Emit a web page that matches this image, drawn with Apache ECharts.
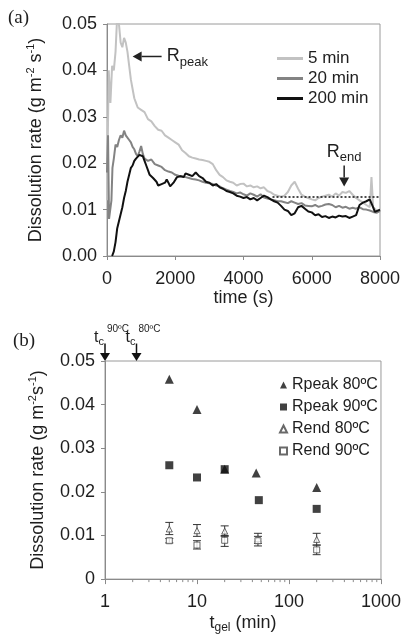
<!DOCTYPE html>
<html><head><meta charset="utf-8">
<script src="https://cdn.jsdelivr.net/npm/echarts@6/dist/echarts.min.js"></script>
<style>html,body{margin:0;padding:0;background:#fff}#c{width:404px;height:635px}</style>
</head><body><div id="c"></div>
<script>
// ---------- Panel (a): dissolution rate vs time ----------
const time5 = [0,50,100,150,200,250,300,350,400,450,500,550,600,650,700,750,800,850,900,1000,1100,1200,1300,1400,1500,1600,1700,1800,1900,2000,2100,2200,2300,2400,2500,2600,2700,2800,2900,3000,3100,3200,3300,3400,3500,3600,3700,3800,3900,4000,4100,4200,4300,4400,4500,4600,4700,4800,4900,5000,5100,5200,5300,5400,5500,5600,5700,5800,5900,6000,6100,6200,6300,6400,6500,6600,6700,6800,6900,7000,7100,7200,7300,7400,7500,7600,7700,7750,7800,7900,8000];
const rate5 = [0.012,0.040,0.033,0.041,0.040,0.044,0.052,0.050,0.046,0.045,0.047,0.046,0.044,0.041,0.038,0.036,0.034,0.033,0.032,0.0315,0.031,0.0295,0.029,0.028,0.0272,0.027,0.026,0.0255,0.025,0.0245,0.024,0.0228,0.0222,0.0215,0.0212,0.021,0.0208,0.0207,0.0205,0.0203,0.0198,0.0185,0.0175,0.017,0.0163,0.016,0.0158,0.0152,0.0155,0.0156,0.015,0.0152,0.0148,0.015,0.0146,0.0148,0.014,0.0137,0.0132,0.013,0.0128,0.013,0.0138,0.0152,0.016,0.0145,0.0132,0.0128,0.0125,0.0122,0.012,0.0125,0.0128,0.013,0.0132,0.0128,0.0135,0.013,0.0138,0.0136,0.014,0.0132,0.0125,0.012,0.0115,0.011,0.0105,0.017,0.0105,0.0098,0.0095];

const time20 = [0,30,60,100,130,160,200,250,300,350,400,450,500,550,600,650,700,750,800,850,900,950,1000,1050,1100,1200,1300,1400,1500,1600,1700,1800,1900,2000,2100,2200,2300,2400,2500,2600,2700,2800,2900,3000,3100,3200,3300,3400,3500,3600,3700,3800,3900,4000,4100,4200,4300,4400,4500,4600,4700,4800,4900,5000,5100,5200,5300,5400,5500,5600,5700,5800,5900,6000,6100,6200,6300,6400,6500,6600,6700,6800,6900,7000,7100,7200,7300,7400,7500,7600,7700,7800,7900,8000];
const rate20 = [0.018,0.026,0.008,0.0078,0.012,0.019,0.021,0.024,0.0235,0.025,0.026,0.0255,0.027,0.026,0.0262,0.025,0.0245,0.0235,0.023,0.022,0.0215,0.0225,0.0237,0.022,0.021,0.0205,0.0208,0.0198,0.0195,0.0192,0.0185,0.0182,0.018,0.0175,0.0173,0.0172,0.017,0.0168,0.0166,0.0165,0.0163,0.016,0.0158,0.0157,0.0155,0.0152,0.015,0.0146,0.0143,0.014,0.0138,0.0135,0.0137,0.0133,0.013,0.0135,0.0132,0.0128,0.0133,0.0126,0.0124,0.0122,0.012,0.0118,0.0118,0.0116,0.0114,0.0118,0.0115,0.0112,0.0114,0.0109,0.0108,0.0107,0.011,0.0106,0.0108,0.0111,0.0112,0.011,0.0105,0.0108,0.0104,0.0106,0.0102,0.0104,0.0102,0.0105,0.0101,0.01,0.0098,0.0095,0.0093,0.0097];

const time200 = [150,200,250,300,350,400,450,500,550,600,650,700,750,800,850,900,950,1000,1050,1100,1150,1200,1250,1300,1350,1400,1450,1500,1550,1600,1650,1700,1750,1800,1850,1900,1950,2000,2050,2100,2150,2200,2250,2300,2400,2500,2600,2700,2800,2900,3000,3100,3200,3300,3400,3500,3600,3700,3800,3900,4000,4100,4200,4300,4400,4500,4600,4700,4800,4900,5000,5100,5200,5300,5400,5500,5600,5700,5800,5900,6000,6100,6200,6300,6400,6500,6600,6700,6800,6900,7000,7100,7200,7300,7400,7500,7600,7700,7750,7800,7850,7900,8000];
const rate200 = [0.0,0.001,0.003,0.006,0.0075,0.009,0.0105,0.0125,0.014,0.016,0.0175,0.019,0.0195,0.0205,0.021,0.0212,0.0218,0.022,0.0215,0.0205,0.0195,0.0185,0.0175,0.0172,0.0168,0.0165,0.016,0.0152,0.015,0.0155,0.0152,0.0158,0.0165,0.0158,0.015,0.0152,0.0158,0.0162,0.017,0.0168,0.0172,0.0175,0.017,0.0178,0.0175,0.0172,0.018,0.0172,0.0168,0.016,0.0158,0.0152,0.0155,0.0148,0.0145,0.014,0.0138,0.0135,0.013,0.0128,0.0125,0.0127,0.0122,0.0125,0.012,0.0125,0.013,0.0127,0.0122,0.0118,0.0115,0.0108,0.01,0.0097,0.0088,0.0092,0.0105,0.0108,0.0102,0.0096,0.0094,0.0088,0.009,0.0084,0.0086,0.0082,0.0085,0.0083,0.0087,0.0085,0.0086,0.0082,0.0085,0.0088,0.011,0.0115,0.0118,0.0122,0.012,0.0105,0.0095,0.0098,0.01];

// dotted R_end guide line
const rendGuideX = [4850, 8000];
const rendGuideY = [0.0127, 0.0127];

// ---------- Panel (b): rates vs gel time ----------
const rpeak80X = [5, 10, 20, 44, 200];
const rpeak80Y = [0.0458, 0.0389, 0.0252, 0.0243, 0.021];
const rpeak90X = [5, 10, 20, 47, 200];
const rpeak90Y = [0.0261, 0.0233, 0.0252, 0.0181, 0.0161];
const rendX = [5, 10, 20, 46, 200];
const rend80Y = [0.0115, 0.0111, 0.0110, 0.0093, 0.0091];
const rend80Lo = [0.0102, 0.0098, 0.0098, 0.0082, 0.0078];
const rend80Hi = [0.0130, 0.0125, 0.0122, 0.0105, 0.0105];
const rend90Y = [0.0088, 0.0078, 0.0089, 0.0088, 0.0067];
const rend90Lo = [0.0083, 0.0069, 0.0075, 0.0076, 0.0056];
const rend90Hi = [0.0093, 0.0088, 0.0100, 0.0098, 0.0078];
const minorTickVals = [2,3,4,5,6,7,8,9,20,30,40,50,60,70,80,90,200,300,400,500,600,700,800,900];
const tcX = [1, 2.2];
const tcLabels = ['90ºC', '80ºC'];

const yTicksA = ['0.00','0.01','0.02','0.03','0.04','0.05'];
const yTicksB = ['0','0.01','0.02','0.03','0.04','0.05'];

const zip = (a, b) => a.map((v, i) => [v, b[i]]);
const FONT = 'Liberation Sans, Arial, sans-serif';
const TXT = '#1e1e1e';
const AXC = '#8a8a8a';

const richBase = {
  sup: { fontSize: 11, verticalAlign: 'top', lineHeight: 22, fontFamily: FONT, color: TXT },
  sub: { fontSize: 12, verticalAlign: 'bottom', lineHeight: 22, fontFamily: FONT, color: TXT }
};

const chart = echarts.init(document.getElementById('c'), null, { renderer: 'canvas' });

const option = {
  animation: false,
  backgroundColor: '#fff',
  textStyle: { fontFamily: FONT },
  grid: [
    { left: 107, top: 24, width: 273, height: 232, show: true, borderColor: '#9a9a9a', borderWidth: 1, backgroundColor: 'transparent' },
    { left: 105, top: 361, width: 277, height: 226, show: true, borderColor: '#9a9a9a', borderWidth: 1, backgroundColor: 'transparent' }
  ],
  xAxis: [
    { gridIndex: 0, type: 'value', min: 0, max: 8000, interval: 2000,
      axisLine: { lineStyle: { color: AXC } }, axisTick: { show: true, length: 4, lineStyle: { color: AXC } },
      splitLine: { show: false },
      axisLabel: { fontSize: 18, color: TXT, margin: 14, fontFamily: FONT, formatter: (v) => String(v) },
      name: 'time (s)', nameLocation: 'middle', nameGap: 33,
      nameTextStyle: { fontSize: 18, color: TXT, fontFamily: FONT } },
    { gridIndex: 1, type: 'log', logBase: 10, min: 1, max: 1000,
      axisLine: { lineStyle: { color: AXC } }, axisTick: { show: true, length: 5, lineStyle: { color: AXC } },
      splitLine: { show: false }, minorTick: { show: false },
      axisLabel: { fontSize: 18, color: TXT, margin: 14, fontFamily: FONT, formatter: (v) => String(Math.round(v)) },
      name: 't{sub|gel} (min)', nameLocation: 'middle', nameGap: 27,
      nameTextStyle: { fontSize: 18, color: TXT, fontFamily: FONT, lineHeight: 22, rich: richBase } }
  ],
  yAxis: [
    { gridIndex: 0, type: 'value', min: 0, max: 0.05, interval: 0.01,
      axisLine: { show: true, lineStyle: { color: AXC } }, axisTick: { show: true, length: 4, lineStyle: { color: AXC } },
      splitLine: { show: false },
      axisLabel: { fontSize: 18, color: TXT, margin: 10, fontFamily: FONT,
        formatter: (v) => yTicksA[Math.round(v / 0.01)] },
      name: 'Dissolution rate (g m{sup|-2} s{sup|-1})', nameLocation: 'middle', nameGap: 60,
      nameTextStyle: { fontSize: 18, color: TXT, fontFamily: FONT, lineHeight: 22, rich: richBase } },
    { gridIndex: 1, type: 'value', min: 0, max: 0.05, interval: 0.01,
      axisLine: { show: true, lineStyle: { color: AXC } }, axisTick: { show: true, length: 4, lineStyle: { color: AXC } },
      splitLine: { show: false },
      axisLabel: { fontSize: 18, color: TXT, margin: 10, fontFamily: FONT,
        formatter: (v) => yTicksB[Math.round(v / 0.01)] },
      name: 'Dissolution rate (g m{sup|-2}s{sup|-1})', nameLocation: 'middle', nameGap: 56,
      nameTextStyle: { fontSize: 18, color: TXT, fontFamily: FONT, lineHeight: 22, rich: richBase } }
  ],
  legend: [
    { data: ['5 min', '20 min', '200 min'], orient: 'vertical', left: 272, top: 45,
      icon: 'rect', itemWidth: 26, itemHeight: 3, itemGap: 3,
      textStyle: { fontSize: 17, color: TXT, fontFamily: FONT, lineHeight: 13 } },
    { data: ['Rpeak 80ºC', 'Rpeak 90ºC', 'Rend 80ºC', 'Rend 90ºC'], orient: 'vertical', left: 274, top: 372,
      itemWidth: 7, itemHeight: 7, itemGap: 6,
      textStyle: { fontSize: 16, color: TXT, fontFamily: FONT, lineHeight: 15 } }
  ],
  series: [
    { name: '5 min', type: 'line', xAxisIndex: 0, yAxisIndex: 0, data: zip(time5, rate5),
      showSymbol: false, symbol: 'none', clip: true,
      lineStyle: { color: '#c2c2c2', width: 2 }, itemStyle: { color: '#c2c2c2' } },
    { name: '20 min', type: 'line', xAxisIndex: 0, yAxisIndex: 0, data: zip(time20, rate20),
      showSymbol: false, symbol: 'none', clip: true,
      lineStyle: { color: '#838383', width: 2 }, itemStyle: { color: '#838383' } },
    { name: '200 min', type: 'line', xAxisIndex: 0, yAxisIndex: 0, data: zip(time200, rate200),
      showSymbol: false, symbol: 'none', clip: true,
      lineStyle: { color: '#111', width: 2 }, itemStyle: { color: '#111' } },
    { name: 'Rend guide', type: 'line', xAxisIndex: 0, yAxisIndex: 0, data: zip(rendGuideX, rendGuideY),
      showSymbol: false, symbol: 'none', silent: true,
      lineStyle: { color: '#111', width: 1.5, type: [2, 2] } },

    { name: 'minor ticks', type: 'custom', xAxisIndex: 1, yAxisIndex: 1, clip: false, silent: true,
      data: minorTickVals.map(v => [v, 0]),
      renderItem: (params, api) => {
        const p = api.coord([api.value(0), api.value(1)]);
        return { type: 'line', shape: { x1: p[0], y1: p[1], x2: p[0], y2: p[1] + 3 }, style: { stroke: AXC, lineWidth: 1 } };
      } },
    { name: 'err', type: 'custom', xAxisIndex: 1, yAxisIndex: 1, silent: true,
      data: rendX.map((x, i) => [x, rend80Lo[i], rend80Hi[i]]).concat(rendX.map((x, i) => [x, rend90Lo[i], rend90Hi[i]])),
      encode: { x: 0, y: [1, 2] },
      renderItem: (params, api) => {
        const x = api.value(0);
        const a = api.coord([x, api.value(1)]), b = api.coord([x, api.value(2)]);
        const w = 4, st = { stroke: '#333', lineWidth: 1 };
        return { type: 'group', children: [
          { type: 'line', shape: { x1: a[0], y1: a[1], x2: b[0], y2: b[1] }, style: st },
          { type: 'line', shape: { x1: a[0] - w, y1: a[1], x2: a[0] + w, y2: a[1] }, style: st },
          { type: 'line', shape: { x1: b[0] - w, y1: b[1], x2: b[0] + w, y2: b[1] }, style: st }
        ] };
      } },
    { name: 'Rpeak 80ºC', type: 'scatter', xAxisIndex: 1, yAxisIndex: 1, data: zip(rpeak80X, rpeak80Y),
      symbol: 'triangle', symbolSize: 9, itemStyle: { color: '#111' } },
    { name: 'Rpeak 90ºC', type: 'scatter', xAxisIndex: 1, yAxisIndex: 1, data: zip(rpeak90X, rpeak90Y),
      symbol: 'rect', symbolSize: 8, itemStyle: { color: '#111' } },
    { name: 'Rend 80ºC', type: 'scatter', xAxisIndex: 1, yAxisIndex: 1, data: zip(rendX, rend80Y),
      symbol: 'triangle', symbolSize: 6, itemStyle: { color: '#fff', borderColor: '#444', borderWidth: 1 } },
    { name: 'Rend 90ºC', type: 'scatter', xAxisIndex: 1, yAxisIndex: 1, data: zip(rendX, rend90Y),
      symbol: 'rect', symbolSize: 6, itemStyle: { color: '#fff', borderColor: '#444', borderWidth: 1 } }
  ]
};
chart.setOption(option);

// ---------- annotations (positions given in data space) ----------
const rpeakArrow = { from: [1600, 0.043], to: [750, 0.043], label: [1750, 0.043] };
const rendArrow = { from: [6950, 0.0195], to: [6950, 0.0150], label: [6950, 0.0225] };
const tcArrowTop = 0.0540;

function px(g, pt) { return chart.convertToPixel({ gridIndex: g }, pt); }
function arrow(a, b, color, hl, hw) {
  const dx = b[0] - a[0], dy = b[1] - a[1];
  const L = Math.hypot(dx, dy), ux = dx / L, uy = dy / L;
  const bx = b[0] - ux * hl, by = b[1] - uy * hl;
  return [
    { type: 'line', shape: { x1: a[0], y1: a[1], x2: bx, y2: by }, style: { stroke: color, lineWidth: 1.5 } },
    { type: 'polygon', shape: { points: [[b[0], b[1]], [bx - uy * hw, by + ux * hw], [bx + uy * hw, by - ux * hw]] }, style: { fill: color } }
  ];
}
const g = [];
g.push(...arrow(px(0, rpeakArrow.from), px(0, rpeakArrow.to), '#222', 9, 5));
const rpl = px(0, rpeakArrow.label);
g.push({ type: 'text', x: rpl[0], y: rpl[1], style: { text: 'R{sub|peak}', font: '18px ' + FONT, fill: TXT, align: 'left', verticalAlign: 'middle',
  rich: { sub: { fontSize: 13, verticalAlign: 'bottom', lineHeight: 24, fontFamily: FONT, fill: TXT } } } });
g.push(...arrow(px(0, rendArrow.from), px(0, rendArrow.to), '#222', 9, 5));
const rel = px(0, rendArrow.label);
g.push({ type: 'text', x: rel[0], y: rel[1], style: { text: 'R{sub|end}', font: '18px ' + FONT, fill: TXT, align: 'center', verticalAlign: 'middle',
  rich: { sub: { fontSize: 13, verticalAlign: 'bottom', lineHeight: 24, fontFamily: FONT, fill: TXT } } } });
tcX.forEach((x, i) => {
  const top = px(1, [x, tcArrowTop]), tip = px(1, [x, 0.05]);
  g.push(...arrow(top, tip, '#111', 8, 5));
  g.push({ type: 'text', x: top[0] - 1, y: top[1] + 4, style: { text: 't{sub|c}', font: '16px ' + FONT, fill: TXT, align: 'right', verticalAlign: 'bottom',
    rich: { sub: { fontSize: 11, verticalAlign: 'bottom', lineHeight: 20, fontFamily: FONT, fill: TXT } } } });
  g.push({ type: 'text', x: top[0] + 2, y: top[1] - 9, style: { text: tcLabels[i], font: '10px ' + FONT, fill: TXT, align: 'left', verticalAlign: 'bottom' } });
});
g.push({ type: 'text', x: 8, y: 18, style: { text: '(a)', font: '19px Liberation Serif, Times New Roman, serif', fill: TXT, verticalAlign: 'middle' } });
g.push({ type: 'text', x: 13, y: 341, style: { text: '(b)', font: '19px Liberation Serif, Times New Roman, serif', fill: TXT, verticalAlign: 'middle' } });
chart.setOption({ graphic: g });
</script></body></html>
